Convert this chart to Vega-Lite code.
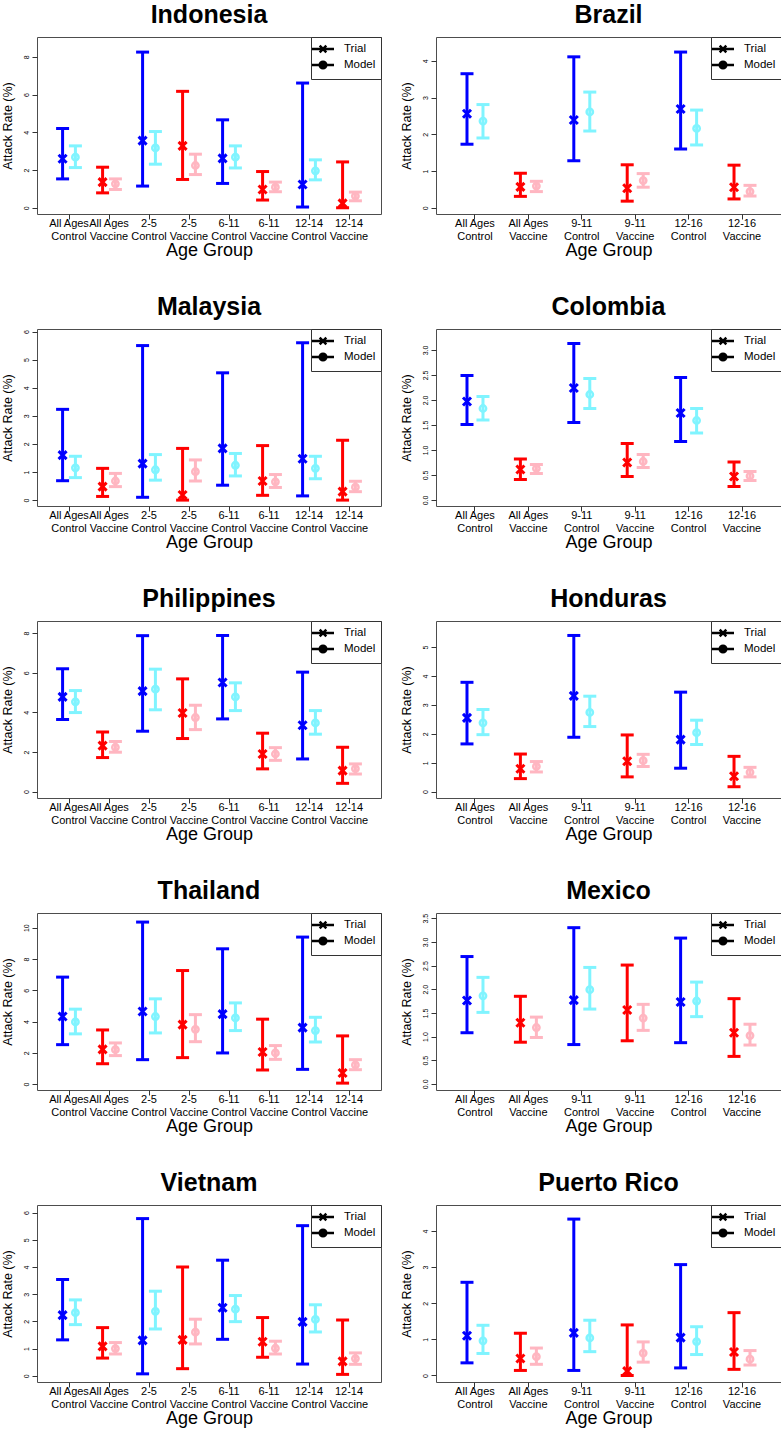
{
"$schema": "https://vega.github.io/schema/vega-lite/v6.json",
"background": "white",
"padding": {"left": 0, "top": 2, "right": 0, "bottom": 0},
"data": {"values": [
{"c":"Indonesia","g":"All Ages|Control","t":"Trial","s":"CT","m":2.60,"lo":1.53,"hi":4.20},
{"c":"Indonesia","g":"All Ages|Control","t":"Model","s":"CM","m":2.68,"lo":2.13,"hi":3.28},
{"c":"Indonesia","g":"All Ages|Vaccine","t":"Trial","s":"VT","m":1.36,"lo":0.79,"hi":2.15},
{"c":"Indonesia","g":"All Ages|Vaccine","t":"Model","s":"VM","m":1.27,"lo":0.97,"hi":1.53},
{"c":"Indonesia","g":"2-5|Control","t":"Trial","s":"CT","m":3.56,"lo":1.15,"hi":8.25},
{"c":"Indonesia","g":"2-5|Control","t":"Model","s":"CM","m":3.17,"lo":2.31,"hi":4.04},
{"c":"Indonesia","g":"2-5|Vaccine","t":"Trial","s":"VT","m":3.28,"lo":1.50,"hi":6.17},
{"c":"Indonesia","g":"2-5|Vaccine","t":"Model","s":"VM","m":2.24,"lo":1.76,"hi":2.84},
{"c":"Indonesia","g":"6-11|Control","t":"Trial","s":"CT","m":2.62,"lo":1.29,"hi":4.66},
{"c":"Indonesia","g":"6-11|Control","t":"Model","s":"CM","m":2.68,"lo":2.11,"hi":3.28},
{"c":"Indonesia","g":"6-11|Vaccine","t":"Trial","s":"VT","m":0.97,"lo":0.41,"hi":1.92},
{"c":"Indonesia","g":"6-11|Vaccine","t":"Model","s":"VM","m":1.09,"lo":0.85,"hi":1.36},
{"c":"Indonesia","g":"12-14|Control","t":"Trial","s":"CT","m":1.23,"lo":0.04,"hi":6.61},
{"c":"Indonesia","g":"12-14|Control","t":"Model","s":"CM","m":1.96,"lo":1.48,"hi":2.54},
{"c":"Indonesia","g":"12-14|Vaccine","t":"Trial","s":"VT","m":0.23,"lo":0.00,"hi":2.43},
{"c":"Indonesia","g":"12-14|Vaccine","t":"Model","s":"VM","m":0.62,"lo":0.37,"hi":0.83},
{"c":"Brazil","g":"All Ages|Control","t":"Trial","s":"CT","m":2.56,"lo":1.73,"hi":3.65},
{"c":"Brazil","g":"All Ages|Control","t":"Model","s":"CM","m":2.36,"lo":1.90,"hi":2.81},
{"c":"Brazil","g":"All Ages|Vaccine","t":"Trial","s":"VT","m":0.57,"lo":0.31,"hi":0.94},
{"c":"Brazil","g":"All Ages|Vaccine","t":"Model","s":"VM","m":0.59,"lo":0.44,"hi":0.72},
{"c":"Brazil","g":"9-11|Control","t":"Trial","s":"CT","m":2.39,"lo":1.28,"hi":4.11},
{"c":"Brazil","g":"9-11|Control","t":"Model","s":"CM","m":2.61,"lo":2.09,"hi":3.15},
{"c":"Brazil","g":"9-11|Vaccine","t":"Trial","s":"VT","m":0.53,"lo":0.18,"hi":1.17},
{"c":"Brazil","g":"9-11|Vaccine","t":"Model","s":"VM","m":0.74,"lo":0.56,"hi":0.93},
{"c":"Brazil","g":"12-16|Control","t":"Trial","s":"CT","m":2.69,"lo":1.60,"hi":4.24},
{"c":"Brazil","g":"12-16|Control","t":"Model","s":"CM","m":2.16,"lo":1.71,"hi":2.66},
{"c":"Brazil","g":"12-16|Vaccine","t":"Trial","s":"VT","m":0.56,"lo":0.24,"hi":1.16},
{"c":"Brazil","g":"12-16|Vaccine","t":"Model","s":"VM","m":0.44,"lo":0.32,"hi":0.61},
{"c":"Malaysia","g":"All Ages|Control","t":"Trial","s":"CT","m":1.60,"lo":0.69,"hi":3.23},
{"c":"Malaysia","g":"All Ages|Control","t":"Model","s":"CM","m":1.15,"lo":0.80,"hi":1.56},
{"c":"Malaysia","g":"All Ages|Vaccine","t":"Trial","s":"VT","m":0.48,"lo":0.13,"hi":1.13},
{"c":"Malaysia","g":"All Ages|Vaccine","t":"Model","s":"VM","m":0.68,"lo":0.48,"hi":0.95},
{"c":"Malaysia","g":"2-5|Control","t":"Trial","s":"CT","m":1.30,"lo":0.10,"hi":5.50},
{"c":"Malaysia","g":"2-5|Control","t":"Model","s":"CM","m":1.08,"lo":0.71,"hi":1.62},
{"c":"Malaysia","g":"2-5|Vaccine","t":"Trial","s":"VT","m":0.18,"lo":0.00,"hi":1.84},
{"c":"Malaysia","g":"2-5|Vaccine","t":"Model","s":"VM","m":1.01,"lo":0.68,"hi":1.43},
{"c":"Malaysia","g":"6-11|Control","t":"Trial","s":"CT","m":1.84,"lo":0.53,"hi":4.53},
{"c":"Malaysia","g":"6-11|Control","t":"Model","s":"CM","m":1.24,"lo":0.86,"hi":1.66},
{"c":"Malaysia","g":"6-11|Vaccine","t":"Trial","s":"VT","m":0.68,"lo":0.17,"hi":1.94},
{"c":"Malaysia","g":"6-11|Vaccine","t":"Model","s":"VM","m":0.65,"lo":0.45,"hi":0.91},
{"c":"Malaysia","g":"12-14|Control","t":"Trial","s":"CT","m":1.47,"lo":0.15,"hi":5.60},
{"c":"Malaysia","g":"12-14|Control","t":"Model","s":"CM","m":1.13,"lo":0.76,"hi":1.56},
{"c":"Malaysia","g":"12-14|Vaccine","t":"Trial","s":"VT","m":0.30,"lo":0.00,"hi":2.13},
{"c":"Malaysia","g":"12-14|Vaccine","t":"Model","s":"VM","m":0.46,"lo":0.30,"hi":0.67},
{"c":"Colombia","g":"All Ages|Control","t":"Trial","s":"CT","m":1.97,"lo":1.51,"hi":2.49},
{"c":"Colombia","g":"All Ages|Control","t":"Model","s":"CM","m":1.83,"lo":1.60,"hi":2.07},
{"c":"Colombia","g":"All Ages|Vaccine","t":"Trial","s":"VT","m":0.61,"lo":0.41,"hi":0.82},
{"c":"Colombia","g":"All Ages|Vaccine","t":"Model","s":"VM","m":0.63,"lo":0.53,"hi":0.71},
{"c":"Colombia","g":"9-11|Control","t":"Trial","s":"CT","m":2.24,"lo":1.55,"hi":3.13},
{"c":"Colombia","g":"9-11|Control","t":"Model","s":"CM","m":2.11,"lo":1.83,"hi":2.43},
{"c":"Colombia","g":"9-11|Vaccine","t":"Trial","s":"VT","m":0.75,"lo":0.47,"hi":1.13},
{"c":"Colombia","g":"9-11|Vaccine","t":"Model","s":"VM","m":0.77,"lo":0.65,"hi":0.91},
{"c":"Colombia","g":"12-16|Control","t":"Trial","s":"CT","m":1.74,"lo":1.17,"hi":2.45},
{"c":"Colombia","g":"12-16|Control","t":"Model","s":"CM","m":1.59,"lo":1.34,"hi":1.83},
{"c":"Colombia","g":"12-16|Vaccine","t":"Trial","s":"VT","m":0.47,"lo":0.27,"hi":0.76},
{"c":"Colombia","g":"12-16|Vaccine","t":"Model","s":"VM","m":0.48,"lo":0.39,"hi":0.57},
{"c":"Philippines","g":"All Ages|Control","t":"Trial","s":"CT","m":4.78,"lo":3.64,"hi":6.20},
{"c":"Philippines","g":"All Ages|Control","t":"Model","s":"CM","m":4.53,"lo":3.99,"hi":5.10},
{"c":"Philippines","g":"All Ages|Vaccine","t":"Trial","s":"VT","m":2.32,"lo":1.72,"hi":3.01},
{"c":"Philippines","g":"All Ages|Vaccine","t":"Model","s":"VM","m":2.24,"lo":1.99,"hi":2.53},
{"c":"Philippines","g":"2-5|Control","t":"Trial","s":"CT","m":5.07,"lo":3.05,"hi":7.87},
{"c":"Philippines","g":"2-5|Control","t":"Model","s":"CM","m":5.17,"lo":4.13,"hi":6.18},
{"c":"Philippines","g":"2-5|Vaccine","t":"Trial","s":"VT","m":3.97,"lo":2.68,"hi":5.69},
{"c":"Philippines","g":"2-5|Vaccine","t":"Model","s":"VM","m":3.74,"lo":3.13,"hi":4.36},
{"c":"Philippines","g":"6-11|Control","t":"Trial","s":"CT","m":5.51,"lo":3.67,"hi":7.88},
{"c":"Philippines","g":"6-11|Control","t":"Model","s":"CM","m":4.78,"lo":4.09,"hi":5.49},
{"c":"Philippines","g":"6-11|Vaccine","t":"Trial","s":"VT","m":1.90,"lo":1.15,"hi":2.95},
{"c":"Philippines","g":"6-11|Vaccine","t":"Model","s":"VM","m":1.90,"lo":1.58,"hi":2.22},
{"c":"Philippines","g":"12-14|Control","t":"Trial","s":"CT","m":3.35,"lo":1.65,"hi":6.03},
{"c":"Philippines","g":"12-14|Control","t":"Model","s":"CM","m":3.47,"lo":2.90,"hi":4.09},
{"c":"Philippines","g":"12-14|Vaccine","t":"Trial","s":"VT","m":1.06,"lo":0.42,"hi":2.24},
{"c":"Philippines","g":"12-14|Vaccine","t":"Model","s":"VM","m":1.16,"lo":0.89,"hi":1.40},
{"c":"Honduras","g":"All Ages|Control","t":"Trial","s":"CT","m":2.55,"lo":1.65,"hi":3.78},
{"c":"Honduras","g":"All Ages|Control","t":"Model","s":"CM","m":2.38,"lo":1.97,"hi":2.84},
{"c":"Honduras","g":"All Ages|Vaccine","t":"Trial","s":"VT","m":0.79,"lo":0.45,"hi":1.30},
{"c":"Honduras","g":"All Ages|Vaccine","t":"Model","s":"VM","m":0.87,"lo":0.68,"hi":1.04},
{"c":"Honduras","g":"9-11|Control","t":"Trial","s":"CT","m":3.31,"lo":1.88,"hi":5.40},
{"c":"Honduras","g":"9-11|Control","t":"Model","s":"CM","m":2.74,"lo":2.25,"hi":3.30},
{"c":"Honduras","g":"9-11|Vaccine","t":"Trial","s":"VT","m":1.05,"lo":0.51,"hi":1.96},
{"c":"Honduras","g":"9-11|Vaccine","t":"Model","s":"VM","m":1.07,"lo":0.87,"hi":1.29},
{"c":"Honduras","g":"12-16|Control","t":"Trial","s":"CT","m":1.80,"lo":0.81,"hi":3.44},
{"c":"Honduras","g":"12-16|Control","t":"Model","s":"CM","m":2.04,"lo":1.63,"hi":2.47},
{"c":"Honduras","g":"12-16|Vaccine","t":"Trial","s":"VT","m":0.53,"lo":0.17,"hi":1.22},
{"c":"Honduras","g":"12-16|Vaccine","t":"Model","s":"VM","m":0.67,"lo":0.51,"hi":0.84},
{"c":"Thailand","g":"All Ages|Control","t":"Trial","s":"CT","m":4.32,"lo":2.52,"hi":6.84},
{"c":"Thailand","g":"All Ages|Control","t":"Model","s":"CM","m":3.97,"lo":3.21,"hi":4.79},
{"c":"Thailand","g":"All Ages|Vaccine","t":"Trial","s":"VT","m":2.22,"lo":1.30,"hi":3.46},
{"c":"Thailand","g":"All Ages|Vaccine","t":"Model","s":"VM","m":2.20,"lo":1.82,"hi":2.63},
{"c":"Thailand","g":"2-5|Control","t":"Trial","s":"CT","m":4.64,"lo":1.56,"hi":10.36},
{"c":"Thailand","g":"2-5|Control","t":"Model","s":"CM","m":4.32,"lo":3.27,"hi":5.45},
{"c":"Thailand","g":"2-5|Vaccine","t":"Trial","s":"VT","m":3.80,"lo":1.69,"hi":7.26},
{"c":"Thailand","g":"2-5|Vaccine","t":"Model","s":"VM","m":3.50,"lo":2.71,"hi":4.44},
{"c":"Thailand","g":"6-11|Control","t":"Trial","s":"CT","m":4.47,"lo":1.99,"hi":8.65},
{"c":"Thailand","g":"6-11|Control","t":"Model","s":"CM","m":4.23,"lo":3.42,"hi":5.19},
{"c":"Thailand","g":"6-11|Vaccine","t":"Trial","s":"VT","m":2.05,"lo":0.90,"hi":4.15},
{"c":"Thailand","g":"6-11|Vaccine","t":"Model","s":"VM","m":1.99,"lo":1.58,"hi":2.46},
{"c":"Thailand","g":"12-14|Control","t":"Trial","s":"CT","m":3.61,"lo":0.94,"hi":9.40},
{"c":"Thailand","g":"12-14|Control","t":"Model","s":"CM","m":3.42,"lo":2.69,"hi":4.27},
{"c":"Thailand","g":"12-14|Vaccine","t":"Trial","s":"VT","m":0.71,"lo":0.06,"hi":3.08},
{"c":"Thailand","g":"12-14|Vaccine","t":"Model","s":"VM","m":1.22,"lo":0.92,"hi":1.56},
{"c":"Mexico","g":"All Ages|Control","t":"Trial","s":"CT","m":1.76,"lo":1.08,"hi":2.69},
{"c":"Mexico","g":"All Ages|Control","t":"Model","s":"CM","m":1.86,"lo":1.51,"hi":2.25},
{"c":"Mexico","g":"All Ages|Vaccine","t":"Trial","s":"VT","m":1.29,"lo":0.88,"hi":1.85},
{"c":"Mexico","g":"All Ages|Vaccine","t":"Model","s":"VM","m":1.19,"lo":0.98,"hi":1.41},
{"c":"Mexico","g":"9-11|Control","t":"Trial","s":"CT","m":1.77,"lo":0.83,"hi":3.30},
{"c":"Mexico","g":"9-11|Control","t":"Model","s":"CM","m":1.99,"lo":1.58,"hi":2.46},
{"c":"Mexico","g":"9-11|Vaccine","t":"Trial","s":"VT","m":1.56,"lo":0.91,"hi":2.51},
{"c":"Mexico","g":"9-11|Vaccine","t":"Model","s":"VM","m":1.39,"lo":1.13,"hi":1.68},
{"c":"Mexico","g":"12-16|Control","t":"Trial","s":"CT","m":1.73,"lo":0.87,"hi":3.08},
{"c":"Mexico","g":"12-16|Control","t":"Model","s":"CM","m":1.75,"lo":1.42,"hi":2.15},
{"c":"Mexico","g":"12-16|Vaccine","t":"Trial","s":"VT","m":1.08,"lo":0.58,"hi":1.80},
{"c":"Mexico","g":"12-16|Vaccine","t":"Model","s":"VM","m":1.02,"lo":0.82,"hi":1.26},
{"c":"Vietnam","g":"All Ages|Control","t":"Trial","s":"CT","m":2.23,"lo":1.32,"hi":3.54},
{"c":"Vietnam","g":"All Ages|Control","t":"Model","s":"CM","m":2.32,"lo":1.88,"hi":2.79},
{"c":"Vietnam","g":"All Ages|Vaccine","t":"Trial","s":"VT","m":1.08,"lo":0.65,"hi":1.77},
{"c":"Vietnam","g":"All Ages|Vaccine","t":"Model","s":"VM","m":1.00,"lo":0.80,"hi":1.22},
{"c":"Vietnam","g":"2-5|Control","t":"Trial","s":"CT","m":1.30,"lo":0.07,"hi":5.78},
{"c":"Vietnam","g":"2-5|Control","t":"Model","s":"CM","m":2.37,"lo":1.72,"hi":3.11},
{"c":"Vietnam","g":"2-5|Vaccine","t":"Trial","s":"VT","m":1.32,"lo":0.26,"hi":4.00},
{"c":"Vietnam","g":"2-5|Vaccine","t":"Model","s":"VM","m":1.60,"lo":1.17,"hi":2.08},
{"c":"Vietnam","g":"6-11|Control","t":"Trial","s":"CT","m":2.50,"lo":1.34,"hi":4.25},
{"c":"Vietnam","g":"6-11|Control","t":"Model","s":"CM","m":2.45,"lo":1.99,"hi":2.95},
{"c":"Vietnam","g":"6-11|Vaccine","t":"Trial","s":"VT","m":1.25,"lo":0.68,"hi":2.14},
{"c":"Vietnam","g":"6-11|Vaccine","t":"Model","s":"VM","m":1.01,"lo":0.80,"hi":1.27},
{"c":"Vietnam","g":"12-14|Control","t":"Trial","s":"CT","m":1.98,"lo":0.43,"hi":5.52},
{"c":"Vietnam","g":"12-14|Control","t":"Model","s":"CM","m":2.07,"lo":1.61,"hi":2.61},
{"c":"Vietnam","g":"12-14|Vaccine","t":"Trial","s":"VT","m":0.53,"lo":0.05,"hi":2.05},
{"c":"Vietnam","g":"12-14|Vaccine","t":"Model","s":"VM","m":0.63,"lo":0.42,"hi":0.84},
{"c":"Puerto Rico","g":"All Ages|Control","t":"Trial","s":"CT","m":1.10,"lo":0.35,"hi":2.58},
{"c":"Puerto Rico","g":"All Ages|Control","t":"Model","s":"CM","m":0.96,"lo":0.61,"hi":1.39},
{"c":"Puerto Rico","g":"All Ages|Vaccine","t":"Trial","s":"VT","m":0.47,"lo":0.14,"hi":1.17},
{"c":"Puerto Rico","g":"All Ages|Vaccine","t":"Model","s":"VM","m":0.52,"lo":0.31,"hi":0.76},
{"c":"Puerto Rico","g":"9-11|Control","t":"Trial","s":"CT","m":1.18,"lo":0.14,"hi":4.33},
{"c":"Puerto Rico","g":"9-11|Control","t":"Model","s":"CM","m":1.04,"lo":0.66,"hi":1.53},
{"c":"Puerto Rico","g":"9-11|Vaccine","t":"Trial","s":"VT","m":0.12,"lo":0.00,"hi":1.40},
{"c":"Puerto Rico","g":"9-11|Vaccine","t":"Model","s":"VM","m":0.62,"lo":0.37,"hi":0.93},
{"c":"Puerto Rico","g":"12-16|Control","t":"Trial","s":"CT","m":1.05,"lo":0.21,"hi":3.07},
{"c":"Puerto Rico","g":"12-16|Control","t":"Model","s":"CM","m":0.94,"lo":0.58,"hi":1.35},
{"c":"Puerto Rico","g":"12-16|Vaccine","t":"Trial","s":"VT","m":0.65,"lo":0.17,"hi":1.74},
{"c":"Puerto Rico","g":"12-16|Vaccine","t":"Model","s":"VM","m":0.45,"lo":0.29,"hi":0.69}
]},
"columns": 2,
"spacing": {"row": 115, "column": 55},
"bounds": "flush",
"resolve": {"scale": {"shape": "independent", "x": "independent", "y": "independent", "xOffset": "independent"}, "legend": {"shape": "independent"}},
"concat": [
{"title": "Indonesia", "width": 344, "height": 177,
 "transform": [{"filter": "datum.c == 'Indonesia'"}],
 "encoding": {
  "x": {"field": "g", "type": "nominal", "sort": null, "scale": {"paddingInner": 0, "paddingOuter": 0.3}, "axis": {"title": "Age Group", "labelExpr": "split(datum.label, '|')"}},
  "xOffset": {"field": "t", "type": "nominal", "sort": ["Trial", "Model"], "scale": {"paddingInner": 0, "paddingOuter": 0.56}},
  "color": {"field": "s", "type": "nominal", "scale": {"domain": ["CT", "CM", "VT", "VM"], "range": ["#0000FF", "#80F4FF", "#FF0000", "#FFB6C1"]}, "legend": null},
  "y": {"field": "lo", "type": "quantitative", "scale": {"domain": [-0.33, 9.05], "nice": false, "zero": false}, "axis": {"title": "Attack Rate (%)", "values": [0, 2, 4, 6, 8]}}
 },
 "layer": [
  {"mark": {"type": "rule", "strokeWidth": 3, "opacity": 1}, "encoding": {"y2": {"field": "hi"}}},
  {"mark": {"type": "tick", "thickness": 3, "size": 13, "opacity": 1}},
  {"mark": {"type": "tick", "thickness": 3, "size": 13, "opacity": 1}, "encoding": {"y": {"field": "hi", "type": "quantitative"}}},
  {"transform": [{"filter": "datum.t == 'Trial'"}], "mark": {"type": "point", "shape": "M-1,-1L1,1M1,-1L-1,1", "size": 64, "strokeWidth": 3, "filled": false, "opacity": 1}, "encoding": {"y": {"field": "m", "type": "quantitative"}}},
  {"transform": [{"filter": "datum.t == 'Model'"}], "mark": {"type": "point", "shape": "circle", "size": 40, "strokeWidth": 2.5, "filled": false, "opacity": 1}, "encoding": {"y": {"field": "m", "type": "quantitative"}}},
  {"mark": {"type": "point", "filled": true, "opacity": 0}, "encoding": {"y": {"field": "m", "type": "quantitative"}, "shape": {"field": "t", "type": "nominal", "scale": {"domain": ["Trial", "Model"], "range": ["M-2,0H2M-0.6,-0.6L0.6,0.6M0.6,-0.6L-0.6,0.6", "M-2,0H2M0.6,0A0.6,0.6,0,1,1,-0.6,0A0.6,0.6,0,1,1,0.6,0Z"]}, "legend": {"title": null}}}}
 ]},
{"title": "Brazil", "width": 345, "height": 177,
 "transform": [{"filter": "datum.c == 'Brazil'"}],
 "encoding": {
  "x": {"field": "g", "type": "nominal", "sort": null, "scale": {"paddingInner": 0, "paddingOuter": 0.23}, "axis": {"title": "Age Group", "labelExpr": "split(datum.label, '|')"}},
  "xOffset": {"field": "t", "type": "nominal", "sort": ["Trial", "Model"], "scale": {"paddingInner": 0, "paddingOuter": 0.67}},
  "color": {"field": "s", "type": "nominal", "scale": {"domain": ["CT", "CM", "VT", "VM"], "range": ["#0000FF", "#80F4FF", "#FF0000", "#FFB6C1"]}, "legend": null},
  "y": {"field": "lo", "type": "quantitative", "scale": {"domain": [-0.17, 4.65], "nice": false, "zero": false}, "axis": {"title": "Attack Rate (%)", "values": [0, 1, 2, 3, 4]}}
 },
 "layer": [
  {"mark": {"type": "rule", "strokeWidth": 3, "opacity": 1}, "encoding": {"y2": {"field": "hi"}}},
  {"mark": {"type": "tick", "thickness": 3, "size": 13, "opacity": 1}},
  {"mark": {"type": "tick", "thickness": 3, "size": 13, "opacity": 1}, "encoding": {"y": {"field": "hi", "type": "quantitative"}}},
  {"transform": [{"filter": "datum.t == 'Trial'"}], "mark": {"type": "point", "shape": "M-1,-1L1,1M1,-1L-1,1", "size": 64, "strokeWidth": 3, "filled": false, "opacity": 1}, "encoding": {"y": {"field": "m", "type": "quantitative"}}},
  {"transform": [{"filter": "datum.t == 'Model'"}], "mark": {"type": "point", "shape": "circle", "size": 40, "strokeWidth": 2.5, "filled": false, "opacity": 1}, "encoding": {"y": {"field": "m", "type": "quantitative"}}},
  {"mark": {"type": "point", "filled": true, "opacity": 0}, "encoding": {"y": {"field": "m", "type": "quantitative"}, "shape": {"field": "t", "type": "nominal", "scale": {"domain": ["Trial", "Model"], "range": ["M-2,0H2M-0.6,-0.6L0.6,0.6M0.6,-0.6L-0.6,0.6", "M-2,0H2M0.6,0A0.6,0.6,0,1,1,-0.6,0A0.6,0.6,0,1,1,0.6,0Z"]}, "legend": {"title": null}}}}
 ]},
{"title": "Malaysia", "width": 344, "height": 177,
 "transform": [{"filter": "datum.c == 'Malaysia'"}],
 "encoding": {
  "x": {"field": "g", "type": "nominal", "sort": null, "scale": {"paddingInner": 0, "paddingOuter": 0.3}, "axis": {"title": "Age Group", "labelExpr": "split(datum.label, '|')"}},
  "xOffset": {"field": "t", "type": "nominal", "sort": ["Trial", "Model"], "scale": {"paddingInner": 0, "paddingOuter": 0.56}},
  "color": {"field": "s", "type": "nominal", "scale": {"domain": ["CT", "CM", "VT", "VM"], "range": ["#0000FF", "#80F4FF", "#FF0000", "#FFB6C1"]}, "legend": null},
  "y": {"field": "lo", "type": "quantitative", "scale": {"domain": [-0.21, 6.09], "nice": false, "zero": false}, "axis": {"title": "Attack Rate (%)", "values": [0, 1, 2, 3, 4, 5, 6]}}
 },
 "layer": [
  {"mark": {"type": "rule", "strokeWidth": 3, "opacity": 1}, "encoding": {"y2": {"field": "hi"}}},
  {"mark": {"type": "tick", "thickness": 3, "size": 13, "opacity": 1}},
  {"mark": {"type": "tick", "thickness": 3, "size": 13, "opacity": 1}, "encoding": {"y": {"field": "hi", "type": "quantitative"}}},
  {"transform": [{"filter": "datum.t == 'Trial'"}], "mark": {"type": "point", "shape": "M-1,-1L1,1M1,-1L-1,1", "size": 64, "strokeWidth": 3, "filled": false, "opacity": 1}, "encoding": {"y": {"field": "m", "type": "quantitative"}}},
  {"transform": [{"filter": "datum.t == 'Model'"}], "mark": {"type": "point", "shape": "circle", "size": 40, "strokeWidth": 2.5, "filled": false, "opacity": 1}, "encoding": {"y": {"field": "m", "type": "quantitative"}}},
  {"mark": {"type": "point", "filled": true, "opacity": 0}, "encoding": {"y": {"field": "m", "type": "quantitative"}, "shape": {"field": "t", "type": "nominal", "scale": {"domain": ["Trial", "Model"], "range": ["M-2,0H2M-0.6,-0.6L0.6,0.6M0.6,-0.6L-0.6,0.6", "M-2,0H2M0.6,0A0.6,0.6,0,1,1,-0.6,0A0.6,0.6,0,1,1,0.6,0Z"]}, "legend": {"title": null}}}}
 ]},
{"title": "Colombia", "width": 345, "height": 177,
 "transform": [{"filter": "datum.c == 'Colombia'"}],
 "encoding": {
  "x": {"field": "g", "type": "nominal", "sort": null, "scale": {"paddingInner": 0, "paddingOuter": 0.23}, "axis": {"title": "Age Group", "labelExpr": "split(datum.label, '|')"}},
  "xOffset": {"field": "t", "type": "nominal", "sort": ["Trial", "Model"], "scale": {"paddingInner": 0, "paddingOuter": 0.67}},
  "color": {"field": "s", "type": "nominal", "scale": {"domain": ["CT", "CM", "VT", "VM"], "range": ["#0000FF", "#80F4FF", "#FF0000", "#FFB6C1"]}, "legend": null},
  "y": {"field": "lo", "type": "quantitative", "scale": {"domain": [-0.12, 3.42], "nice": false, "zero": false}, "axis": {"title": "Attack Rate (%)", "values": [0, 0.5, 1, 1.5, 2, 2.5, 3], "format": ".1f"}}
 },
 "layer": [
  {"mark": {"type": "rule", "strokeWidth": 3, "opacity": 1}, "encoding": {"y2": {"field": "hi"}}},
  {"mark": {"type": "tick", "thickness": 3, "size": 13, "opacity": 1}},
  {"mark": {"type": "tick", "thickness": 3, "size": 13, "opacity": 1}, "encoding": {"y": {"field": "hi", "type": "quantitative"}}},
  {"transform": [{"filter": "datum.t == 'Trial'"}], "mark": {"type": "point", "shape": "M-1,-1L1,1M1,-1L-1,1", "size": 64, "strokeWidth": 3, "filled": false, "opacity": 1}, "encoding": {"y": {"field": "m", "type": "quantitative"}}},
  {"transform": [{"filter": "datum.t == 'Model'"}], "mark": {"type": "point", "shape": "circle", "size": 40, "strokeWidth": 2.5, "filled": false, "opacity": 1}, "encoding": {"y": {"field": "m", "type": "quantitative"}}},
  {"mark": {"type": "point", "filled": true, "opacity": 0}, "encoding": {"y": {"field": "m", "type": "quantitative"}, "shape": {"field": "t", "type": "nominal", "scale": {"domain": ["Trial", "Model"], "range": ["M-2,0H2M-0.6,-0.6L0.6,0.6M0.6,-0.6L-0.6,0.6", "M-2,0H2M0.6,0A0.6,0.6,0,1,1,-0.6,0A0.6,0.6,0,1,1,0.6,0Z"]}, "legend": {"title": null}}}}
 ]},
{"title": "Philippines", "width": 344, "height": 177,
 "transform": [{"filter": "datum.c == 'Philippines'"}],
 "encoding": {
  "x": {"field": "g", "type": "nominal", "sort": null, "scale": {"paddingInner": 0, "paddingOuter": 0.3}, "axis": {"title": "Age Group", "labelExpr": "split(datum.label, '|')"}},
  "xOffset": {"field": "t", "type": "nominal", "sort": ["Trial", "Model"], "scale": {"paddingInner": 0, "paddingOuter": 0.56}},
  "color": {"field": "s", "type": "nominal", "scale": {"domain": ["CT", "CM", "VT", "VM"], "range": ["#0000FF", "#80F4FF", "#FF0000", "#FFB6C1"]}, "legend": null},
  "y": {"field": "lo", "type": "quantitative", "scale": {"domain": [-0.32, 8.61], "nice": false, "zero": false}, "axis": {"title": "Attack Rate (%)", "values": [0, 2, 4, 6, 8]}}
 },
 "layer": [
  {"mark": {"type": "rule", "strokeWidth": 3, "opacity": 1}, "encoding": {"y2": {"field": "hi"}}},
  {"mark": {"type": "tick", "thickness": 3, "size": 13, "opacity": 1}},
  {"mark": {"type": "tick", "thickness": 3, "size": 13, "opacity": 1}, "encoding": {"y": {"field": "hi", "type": "quantitative"}}},
  {"transform": [{"filter": "datum.t == 'Trial'"}], "mark": {"type": "point", "shape": "M-1,-1L1,1M1,-1L-1,1", "size": 64, "strokeWidth": 3, "filled": false, "opacity": 1}, "encoding": {"y": {"field": "m", "type": "quantitative"}}},
  {"transform": [{"filter": "datum.t == 'Model'"}], "mark": {"type": "point", "shape": "circle", "size": 40, "strokeWidth": 2.5, "filled": false, "opacity": 1}, "encoding": {"y": {"field": "m", "type": "quantitative"}}},
  {"mark": {"type": "point", "filled": true, "opacity": 0}, "encoding": {"y": {"field": "m", "type": "quantitative"}, "shape": {"field": "t", "type": "nominal", "scale": {"domain": ["Trial", "Model"], "range": ["M-2,0H2M-0.6,-0.6L0.6,0.6M0.6,-0.6L-0.6,0.6", "M-2,0H2M0.6,0A0.6,0.6,0,1,1,-0.6,0A0.6,0.6,0,1,1,0.6,0Z"]}, "legend": {"title": null}}}}
 ]},
{"title": "Honduras", "width": 345, "height": 177,
 "transform": [{"filter": "datum.c == 'Honduras'"}],
 "encoding": {
  "x": {"field": "g", "type": "nominal", "sort": null, "scale": {"paddingInner": 0, "paddingOuter": 0.23}, "axis": {"title": "Age Group", "labelExpr": "split(datum.label, '|')"}},
  "xOffset": {"field": "t", "type": "nominal", "sort": ["Trial", "Model"], "scale": {"paddingInner": 0, "paddingOuter": 0.67}},
  "color": {"field": "s", "type": "nominal", "scale": {"domain": ["CT", "CM", "VT", "VM"], "range": ["#0000FF", "#80F4FF", "#FF0000", "#FFB6C1"]}, "legend": null},
  "y": {"field": "lo", "type": "quantitative", "scale": {"domain": [-0.22, 5.9], "nice": false, "zero": false}, "axis": {"title": "Attack Rate (%)", "values": [0, 1, 2, 3, 4, 5]}}
 },
 "layer": [
  {"mark": {"type": "rule", "strokeWidth": 3, "opacity": 1}, "encoding": {"y2": {"field": "hi"}}},
  {"mark": {"type": "tick", "thickness": 3, "size": 13, "opacity": 1}},
  {"mark": {"type": "tick", "thickness": 3, "size": 13, "opacity": 1}, "encoding": {"y": {"field": "hi", "type": "quantitative"}}},
  {"transform": [{"filter": "datum.t == 'Trial'"}], "mark": {"type": "point", "shape": "M-1,-1L1,1M1,-1L-1,1", "size": 64, "strokeWidth": 3, "filled": false, "opacity": 1}, "encoding": {"y": {"field": "m", "type": "quantitative"}}},
  {"transform": [{"filter": "datum.t == 'Model'"}], "mark": {"type": "point", "shape": "circle", "size": 40, "strokeWidth": 2.5, "filled": false, "opacity": 1}, "encoding": {"y": {"field": "m", "type": "quantitative"}}},
  {"mark": {"type": "point", "filled": true, "opacity": 0}, "encoding": {"y": {"field": "m", "type": "quantitative"}, "shape": {"field": "t", "type": "nominal", "scale": {"domain": ["Trial", "Model"], "range": ["M-2,0H2M-0.6,-0.6L0.6,0.6M0.6,-0.6L-0.6,0.6", "M-2,0H2M0.6,0A0.6,0.6,0,1,1,-0.6,0A0.6,0.6,0,1,1,0.6,0Z"]}, "legend": {"title": null}}}}
 ]},
{"title": "Thailand", "width": 344, "height": 177,
 "transform": [{"filter": "datum.c == 'Thailand'"}],
 "encoding": {
  "x": {"field": "g", "type": "nominal", "sort": null, "scale": {"paddingInner": 0, "paddingOuter": 0.3}, "axis": {"title": "Age Group", "labelExpr": "split(datum.label, '|')"}},
  "xOffset": {"field": "t", "type": "nominal", "sort": ["Trial", "Model"], "scale": {"paddingInner": 0, "paddingOuter": 0.56}},
  "color": {"field": "s", "type": "nominal", "scale": {"domain": ["CT", "CM", "VT", "VM"], "range": ["#0000FF", "#80F4FF", "#FF0000", "#FFB6C1"]}, "legend": null},
  "y": {"field": "lo", "type": "quantitative", "scale": {"domain": [-0.38, 10.94], "nice": false, "zero": false}, "axis": {"title": "Attack Rate (%)", "values": [0, 2, 4, 6, 8, 10]}}
 },
 "layer": [
  {"mark": {"type": "rule", "strokeWidth": 3, "opacity": 1}, "encoding": {"y2": {"field": "hi"}}},
  {"mark": {"type": "tick", "thickness": 3, "size": 13, "opacity": 1}},
  {"mark": {"type": "tick", "thickness": 3, "size": 13, "opacity": 1}, "encoding": {"y": {"field": "hi", "type": "quantitative"}}},
  {"transform": [{"filter": "datum.t == 'Trial'"}], "mark": {"type": "point", "shape": "M-1,-1L1,1M1,-1L-1,1", "size": 64, "strokeWidth": 3, "filled": false, "opacity": 1}, "encoding": {"y": {"field": "m", "type": "quantitative"}}},
  {"transform": [{"filter": "datum.t == 'Model'"}], "mark": {"type": "point", "shape": "circle", "size": 40, "strokeWidth": 2.5, "filled": false, "opacity": 1}, "encoding": {"y": {"field": "m", "type": "quantitative"}}},
  {"mark": {"type": "point", "filled": true, "opacity": 0}, "encoding": {"y": {"field": "m", "type": "quantitative"}, "shape": {"field": "t", "type": "nominal", "scale": {"domain": ["Trial", "Model"], "range": ["M-2,0H2M-0.6,-0.6L0.6,0.6M0.6,-0.6L-0.6,0.6", "M-2,0H2M0.6,0A0.6,0.6,0,1,1,-0.6,0A0.6,0.6,0,1,1,0.6,0Z"]}, "legend": {"title": null}}}}
 ]},
{"title": "Mexico", "width": 345, "height": 177,
 "transform": [{"filter": "datum.c == 'Mexico'"}],
 "encoding": {
  "x": {"field": "g", "type": "nominal", "sort": null, "scale": {"paddingInner": 0, "paddingOuter": 0.23}, "axis": {"title": "Age Group", "labelExpr": "split(datum.label, '|')"}},
  "xOffset": {"field": "t", "type": "nominal", "sort": ["Trial", "Model"], "scale": {"paddingInner": 0, "paddingOuter": 0.67}},
  "color": {"field": "s", "type": "nominal", "scale": {"domain": ["CT", "CM", "VT", "VM"], "range": ["#0000FF", "#80F4FF", "#FF0000", "#FFB6C1"]}, "legend": null},
  "y": {"field": "lo", "type": "quantitative", "scale": {"domain": [-0.13, 3.61], "nice": false, "zero": false}, "axis": {"title": "Attack Rate (%)", "values": [0, 0.5, 1, 1.5, 2, 2.5, 3, 3.5], "format": ".1f"}}
 },
 "layer": [
  {"mark": {"type": "rule", "strokeWidth": 3, "opacity": 1}, "encoding": {"y2": {"field": "hi"}}},
  {"mark": {"type": "tick", "thickness": 3, "size": 13, "opacity": 1}},
  {"mark": {"type": "tick", "thickness": 3, "size": 13, "opacity": 1}, "encoding": {"y": {"field": "hi", "type": "quantitative"}}},
  {"transform": [{"filter": "datum.t == 'Trial'"}], "mark": {"type": "point", "shape": "M-1,-1L1,1M1,-1L-1,1", "size": 64, "strokeWidth": 3, "filled": false, "opacity": 1}, "encoding": {"y": {"field": "m", "type": "quantitative"}}},
  {"transform": [{"filter": "datum.t == 'Model'"}], "mark": {"type": "point", "shape": "circle", "size": 40, "strokeWidth": 2.5, "filled": false, "opacity": 1}, "encoding": {"y": {"field": "m", "type": "quantitative"}}},
  {"mark": {"type": "point", "filled": true, "opacity": 0}, "encoding": {"y": {"field": "m", "type": "quantitative"}, "shape": {"field": "t", "type": "nominal", "scale": {"domain": ["Trial", "Model"], "range": ["M-2,0H2M-0.6,-0.6L0.6,0.6M0.6,-0.6L-0.6,0.6", "M-2,0H2M0.6,0A0.6,0.6,0,1,1,-0.6,0A0.6,0.6,0,1,1,0.6,0Z"]}, "legend": {"title": null}}}}
 ]},
{"title": "Vietnam", "width": 344, "height": 177,
 "transform": [{"filter": "datum.c == 'Vietnam'"}],
 "encoding": {
  "x": {"field": "g", "type": "nominal", "sort": null, "scale": {"paddingInner": 0, "paddingOuter": 0.3}, "axis": {"title": "Age Group", "labelExpr": "split(datum.label, '|')"}},
  "xOffset": {"field": "t", "type": "nominal", "sort": ["Trial", "Model"], "scale": {"paddingInner": 0, "paddingOuter": 0.56}},
  "color": {"field": "s", "type": "nominal", "scale": {"domain": ["CT", "CM", "VT", "VM"], "range": ["#0000FF", "#80F4FF", "#FF0000", "#FFB6C1"]}, "legend": null},
  "y": {"field": "lo", "type": "quantitative", "scale": {"domain": [-0.23, 6.28], "nice": false, "zero": false}, "axis": {"title": "Attack Rate (%)", "values": [0, 1, 2, 3, 4, 5, 6]}}
 },
 "layer": [
  {"mark": {"type": "rule", "strokeWidth": 3, "opacity": 1}, "encoding": {"y2": {"field": "hi"}}},
  {"mark": {"type": "tick", "thickness": 3, "size": 13, "opacity": 1}},
  {"mark": {"type": "tick", "thickness": 3, "size": 13, "opacity": 1}, "encoding": {"y": {"field": "hi", "type": "quantitative"}}},
  {"transform": [{"filter": "datum.t == 'Trial'"}], "mark": {"type": "point", "shape": "M-1,-1L1,1M1,-1L-1,1", "size": 64, "strokeWidth": 3, "filled": false, "opacity": 1}, "encoding": {"y": {"field": "m", "type": "quantitative"}}},
  {"transform": [{"filter": "datum.t == 'Model'"}], "mark": {"type": "point", "shape": "circle", "size": 40, "strokeWidth": 2.5, "filled": false, "opacity": 1}, "encoding": {"y": {"field": "m", "type": "quantitative"}}},
  {"mark": {"type": "point", "filled": true, "opacity": 0}, "encoding": {"y": {"field": "m", "type": "quantitative"}, "shape": {"field": "t", "type": "nominal", "scale": {"domain": ["Trial", "Model"], "range": ["M-2,0H2M-0.6,-0.6L0.6,0.6M0.6,-0.6L-0.6,0.6", "M-2,0H2M0.6,0A0.6,0.6,0,1,1,-0.6,0A0.6,0.6,0,1,1,0.6,0Z"]}, "legend": {"title": null}}}}
 ]},
{"title": "Puerto Rico", "width": 345, "height": 177,
 "transform": [{"filter": "datum.c == 'Puerto Rico'"}],
 "encoding": {
  "x": {"field": "g", "type": "nominal", "sort": null, "scale": {"paddingInner": 0, "paddingOuter": 0.23}, "axis": {"title": "Age Group", "labelExpr": "split(datum.label, '|')"}},
  "xOffset": {"field": "t", "type": "nominal", "sort": ["Trial", "Model"], "scale": {"paddingInner": 0, "paddingOuter": 0.67}},
  "color": {"field": "s", "type": "nominal", "scale": {"domain": ["CT", "CM", "VT", "VM"], "range": ["#0000FF", "#80F4FF", "#FF0000", "#FFB6C1"]}, "legend": null},
  "y": {"field": "lo", "type": "quantitative", "scale": {"domain": [-0.18, 4.72], "nice": false, "zero": false}, "axis": {"title": "Attack Rate (%)", "values": [0, 1, 2, 3, 4]}}
 },
 "layer": [
  {"mark": {"type": "rule", "strokeWidth": 3, "opacity": 1}, "encoding": {"y2": {"field": "hi"}}},
  {"mark": {"type": "tick", "thickness": 3, "size": 13, "opacity": 1}},
  {"mark": {"type": "tick", "thickness": 3, "size": 13, "opacity": 1}, "encoding": {"y": {"field": "hi", "type": "quantitative"}}},
  {"transform": [{"filter": "datum.t == 'Trial'"}], "mark": {"type": "point", "shape": "M-1,-1L1,1M1,-1L-1,1", "size": 64, "strokeWidth": 3, "filled": false, "opacity": 1}, "encoding": {"y": {"field": "m", "type": "quantitative"}}},
  {"transform": [{"filter": "datum.t == 'Model'"}], "mark": {"type": "point", "shape": "circle", "size": 40, "strokeWidth": 2.5, "filled": false, "opacity": 1}, "encoding": {"y": {"field": "m", "type": "quantitative"}}},
  {"mark": {"type": "point", "filled": true, "opacity": 0}, "encoding": {"y": {"field": "m", "type": "quantitative"}, "shape": {"field": "t", "type": "nominal", "scale": {"domain": ["Trial", "Model"], "range": ["M-2,0H2M-0.6,-0.6L0.6,0.6M0.6,-0.6L-0.6,0.6", "M-2,0H2M0.6,0A0.6,0.6,0,1,1,-0.6,0A0.6,0.6,0,1,1,0.6,0Z"]}, "legend": {"title": null}}}}
 ]}
],
"config": {
 "font": "Liberation Sans",
 "view": {"stroke": "#4d4d4d", "strokeWidth": 1},
 "axis": {"grid": false, "domain": false, "tickColor": "#333333", "labelColor": "black", "titleColor": "black", "titleFontWeight": "normal", "labelFont": "Liberation Sans", "titleFont": "Liberation Sans"},
 "axisY": {"labelAngle": -90, "labelFontSize": 7, "tickSize": 5, "labelPadding": 3, "titleFontSize": 12.5, "titlePadding": 8},
 "axisX": {"labelAngle": 0, "labelFontSize": 11, "labelLineHeight": 13, "tickSize": 5, "labelPadding": -2, "titleFontSize": 18, "titlePadding": 0},
 "title": {"fontSize": 25, "fontWeight": "bold", "anchor": "middle", "frame": "group", "offset": 9, "color": "black", "font": "Liberation Sans"},
 "legend": {"orient": "top-right", "offset": 0, "padding": 5, "strokeColor": "#333333", "fillColor": "white", "labelFontSize": 11.5, "labelOffset": 14, "symbolSize": 121, "rowPadding": -3, "symbolStrokeWidth": 2.5, "symbolFillColor": "black", "symbolStrokeColor": "black", "symbolOpacity": 1, "labelColor": "black", "cornerRadius": 0, "labelFont": "Liberation Sans"}
}
}
